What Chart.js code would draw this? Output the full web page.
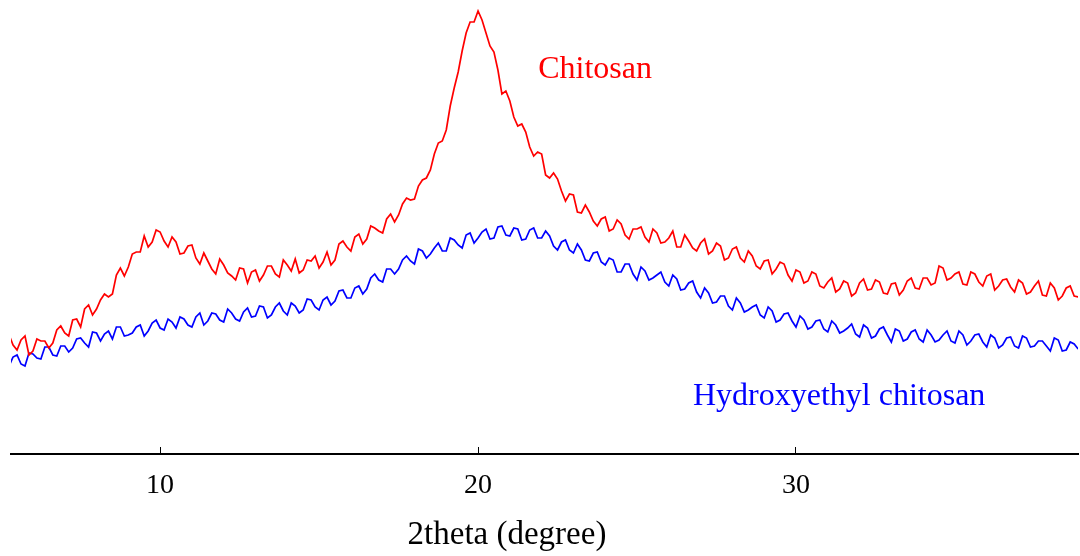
<!DOCTYPE html>
<html>
<head>
<meta charset="utf-8">
<script src="https://cdn.jsdelivr.net/npm/chart.js@4"></script>
<style>
  html, body { margin: 0; padding: 0; background: #fff; }
  #wrap { width: 1080px; height: 556px; }
</style>
</head>
<body>
<div id="wrap"><canvas id="grafico"></canvas></div>
<script>
// 2theta angles (degree) shared by both scans
const angulos = [
  5.25, 5.375, 5.5, 5.625, 5.75, 5.875,
  6, 6.125, 6.25, 6.375, 6.5, 6.625, 6.75, 6.875,
  7, 7.125, 7.25, 7.375, 7.5, 7.625, 7.75, 7.875,
  8, 8.125, 8.25, 8.375, 8.5, 8.625, 8.75, 8.875,
  9, 9.125, 9.25, 9.375, 9.5, 9.625, 9.75, 9.875,
  10, 10.125, 10.25, 10.375, 10.5, 10.625, 10.75, 10.875,
  11, 11.125, 11.25, 11.375, 11.5, 11.625, 11.75, 11.875,
  12, 12.125, 12.25, 12.375, 12.5, 12.625, 12.75, 12.875,
  13, 13.125, 13.25, 13.375, 13.5, 13.625, 13.75, 13.875,
  14, 14.125, 14.25, 14.375, 14.5, 14.625, 14.75, 14.875,
  15, 15.125, 15.25, 15.375, 15.5, 15.625, 15.75, 15.875,
  16, 16.125, 16.25, 16.375, 16.5, 16.625, 16.75, 16.875,
  17, 17.125, 17.25, 17.375, 17.5, 17.625, 17.75, 17.875,
  18, 18.125, 18.25, 18.375, 18.5, 18.625, 18.75, 18.875,
  19, 19.125, 19.25, 19.375, 19.5, 19.625, 19.75, 19.875,
  20, 20.125, 20.25, 20.375, 20.5, 20.625, 20.75, 20.875,
  21, 21.125, 21.25, 21.375, 21.5, 21.625, 21.75, 21.875,
  22, 22.125, 22.25, 22.375, 22.5, 22.625, 22.75, 22.875,
  23, 23.125, 23.25, 23.375, 23.5, 23.625, 23.75, 23.875,
  24, 24.125, 24.25, 24.375, 24.5, 24.625, 24.75, 24.875,
  25, 25.125, 25.25, 25.375, 25.5, 25.625, 25.75, 25.875,
  26, 26.125, 26.25, 26.375, 26.5, 26.625, 26.75, 26.875,
  27, 27.125, 27.25, 27.375, 27.5, 27.625, 27.75, 27.875,
  28, 28.125, 28.25, 28.375, 28.5, 28.625, 28.75, 28.875,
  29, 29.125, 29.25, 29.375, 29.5, 29.625, 29.75, 29.875,
  30, 30.125, 30.25, 30.375, 30.5, 30.625, 30.75, 30.875,
  31, 31.125, 31.25, 31.375, 31.5, 31.625, 31.75, 31.875,
  32, 32.125, 32.25, 32.375, 32.5, 32.625, 32.75, 32.875,
  33, 33.125, 33.25, 33.375, 33.5, 33.625, 33.75, 33.875,
  34, 34.125, 34.25, 34.375, 34.5, 34.625, 34.75, 34.875,
  35, 35.125, 35.25, 35.375, 35.5, 35.625, 35.75, 35.875,
  36, 36.125, 36.25, 36.375, 36.5, 36.625, 36.75, 36.875,
  37, 37.125, 37.25, 37.375, 37.5, 37.625, 37.75, 37.875,
  38, 38.125, 38.25, 38.375, 38.5, 38.625, 38.75, 38.875,
  39
];

// intensity (arbitrary units)
const quitosano = [
  119, 109, 104, 114, 118, 99, 103, 115, 113, 113, 106, 111, 124, 128, 121, 118, 134, 135, 127, 145,
  149, 139, 145, 154, 160, 157, 160, 179, 186, 178, 187, 200, 202, 202, 218, 207, 212, 224, 222, 213,
  207, 217, 212, 200, 201, 208, 209, 196, 190, 201, 193, 185, 180, 195, 189, 181, 178, 174, 186, 185,
  171, 182, 184, 173, 179, 188, 188, 180, 177, 194, 189, 183, 195, 181, 184, 194, 193, 198, 186, 192,
  202, 189, 194, 210, 213, 207, 203, 217, 220, 210, 215, 228, 226, 223, 221, 235, 240, 232, 239, 250,
  256, 254, 255, 268, 274, 276, 284, 300, 311, 313, 324, 348, 366, 382, 403, 421, 432, 432, 443, 434,
  421, 408, 402, 384, 360, 363, 353, 337, 328, 330, 322, 307, 298, 302, 300, 279, 276, 281, 275, 263,
  253, 260, 259, 242, 241, 249, 242, 233, 228, 235, 237, 223, 225, 234, 230, 219, 215, 225, 225, 227,
  217, 212, 225, 221, 211, 212, 216, 223, 207, 207, 219, 213, 206, 203, 211, 215, 200, 203, 211, 208,
  194, 196, 205, 207, 196, 192, 203, 198, 188, 185, 193, 194, 180, 185, 192, 190, 179, 173, 184, 182,
  171, 173, 182, 180, 168, 166, 172, 176, 162, 165, 173, 171, 158, 161, 171, 175, 164, 165, 174, 172,
  161, 160, 170, 171, 159, 164, 173, 176, 166, 165, 176, 176, 169, 171, 188, 186, 174, 176, 180, 182,
  170, 169, 182, 180, 172, 168, 178, 180, 164, 168, 174, 175, 167, 162, 174, 171, 160, 162, 168, 173,
  159, 158, 171, 166, 154, 158, 166, 168, 158, 157,
  166
];

const hidroxietil = [
  88, 97, 99, 90, 88, 101, 100, 96, 95, 107, 107, 99, 98, 108, 108, 102, 106, 115, 116, 111,
  107, 122, 121, 113, 120, 123, 115, 127, 127, 118, 119, 121, 127, 129, 118, 123, 131, 134, 126, 124,
  135, 132, 126, 137, 135, 129, 127, 137, 141, 129, 133, 141, 140, 134, 132, 145, 141, 135, 133, 142,
  146, 137, 138, 148, 147, 136, 139, 147, 151, 143, 139, 151, 148, 141, 144, 155, 154, 147, 144, 154,
  157, 149, 153, 163, 164, 156, 156, 166, 168, 160, 165, 176, 180, 174, 172, 185, 185, 180, 185, 194,
  198, 193, 190, 205, 203, 196, 200, 206, 211, 203, 203, 216, 214, 209, 206, 219, 221, 211, 216, 222,
  225, 215, 216, 227, 228, 219, 218, 226, 225, 214, 215, 224, 226, 216, 216, 223, 218, 208, 204, 212,
  214, 204, 201, 210, 204, 194, 193, 201, 202, 192, 189, 196, 194, 182, 182, 190, 190, 180, 174, 187,
  183, 174, 176, 179, 182, 172, 168, 179, 175, 164, 165, 171, 173, 162, 156, 166, 161, 151, 152, 158,
  158, 148, 144, 156, 151, 142, 144, 147, 149, 139, 136, 147, 143, 132, 134, 140, 141, 133, 127, 138,
  134, 125, 127, 133, 134, 125, 122, 133, 129, 121, 123, 126, 130, 120, 117, 129, 126, 116, 118, 125,
  127, 119, 112, 125, 123, 113, 115, 122, 124, 115, 112, 124, 119, 112, 114, 119, 123, 113, 111, 123,
  119, 109, 113, 119, 120, 112, 107, 119, 116, 106, 109, 116, 117, 108, 106, 118, 116, 107, 108, 113,
  113, 108, 103, 116, 114, 103, 104, 112, 110, 105,
  102
];

const ticksX = [10, 20, 30];

const fuente = '"Liberation Serif", "Times New Roman", serif';

// texts written on the plot, placed in data units
const etiquetas = [
  { texto: 'Chitosan', x: 21.89, y: 376, color: '#ff0000', size: 32, align: 'left' },
  { texto: 'Hydroxyethyl chitosan', x: 26.76, y: 49, color: '#0000ff', size: 32, align: 'left' }
];
const tituloX = { texto: '2theta (degree)', x: 20.91, color: '#000', size: 33 };

const etiquetasPlugin = {
  id: 'etiquetas',
  afterDraw(chart) {
    const ctx = chart.ctx;
    const sx = chart.scales.x, sy = chart.scales.y;
    ctx.save();
    ctx.textBaseline = 'alphabetic';
    etiquetas.forEach(e => {
      ctx.font = e.size + 'px ' + fuente;
      ctx.textAlign = e.align;
      ctx.fillStyle = e.color;
      ctx.fillText(e.texto, sx.getPixelForValue(e.x), sy.getPixelForValue(e.y));
    });
    // axis title sits a bit left of the axis centre in the original
    ctx.font = tituloX.size + 'px ' + fuente;
    ctx.textAlign = 'center';
    ctx.fillStyle = tituloX.color;
    ctx.fillText(tituloX.texto, sx.getPixelForValue(tituloX.x), sx.bottom - 12);
    ctx.restore();
  }
};

const puntos = serie => angulos.map((a, i) => ({ x: a, y: serie[i] }));

const ctx = document.getElementById('grafico').getContext('2d');
new Chart(ctx, {
  type: 'line',
  data: {
    datasets: [
      {
        label: 'Chitosan',
        data: puntos(quitosano),
        borderColor: '#ff0000',
        borderWidth: 1.7,
        pointRadius: 0,
        tension: 0
      },
      {
        label: 'Hydroxyethyl chitosan',
        data: puntos(hidroxietil),
        borderColor: '#0000ff',
        borderWidth: 1.7,
        pointRadius: 0,
        tension: 0
      }
    ]
  },
  options: {
    responsive: true,
    maintainAspectRatio: false,
    animation: false,
    layout: { padding: { left: 11, right: 2, top: 4, bottom: 0 } },
    plugins: { legend: { display: false }, tooltip: { enabled: false } },
    scales: {
      x: {
        type: 'linear',
        min: 5.31,
        max: 38.87,
        afterBuildTicks: s => { s.ticks = ticksX.map(v => ({ value: v })); },
        afterFit: s => { s.height = 102; },
        grid: { drawOnChartArea: false, drawTicks: true, tickLength: -7, color: '#000', lineWidth: 1 },
        border: { display: true, color: '#000', width: 2 },
        ticks: { color: '#000', font: { family: fuente, size: 28 }, padding: 22, maxRotation: 0 },
        title: { display: false }
      },
      y: { display: false, min: 0, max: 450 }
    }
  },
  plugins: [etiquetasPlugin]
});
</script>
</body>
</html>
